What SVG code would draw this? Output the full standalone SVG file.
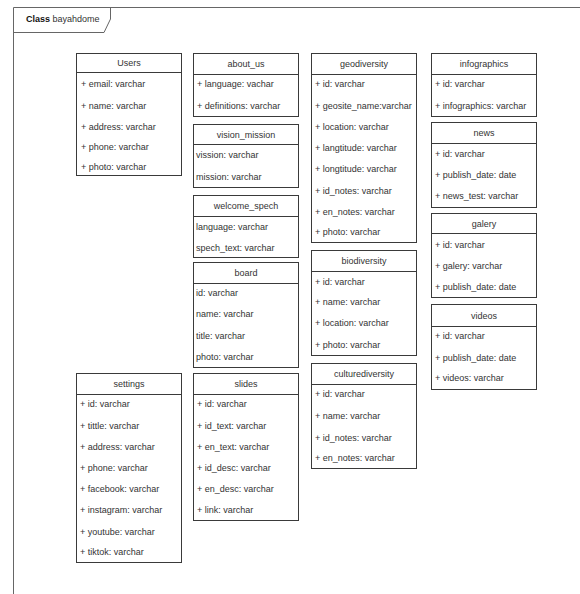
<svg xmlns="http://www.w3.org/2000/svg" width="580" height="594" viewBox="0 0 580 594">
<style>
.frame{fill:none;stroke:#666;stroke-width:1}
.box{fill:#fff;stroke:#3a3a3a;stroke-width:1}
.sep{stroke:#3a3a3a;stroke-width:1}
text{font-family:"Liberation Sans",Arial,sans-serif;font-size:9px;fill:#333}
.h{text-anchor:middle}
.b{font-weight:bold;fill:#111}
</style>
<rect width="580" height="594" fill="#fff"/>
<g id="frame">
<path class="frame" d="M13.5,594 V7.5 H580"/>
<path class="frame" d="M13.5,32.5 H104 L110.5,19 V7.5"/>
<text x="26" y="21.5"><tspan class="b">Class</tspan> bayahdome</text>
</g>
<g id="connectors"></g>
<g id="users">
<rect class="box" x="76.5" y="53.5" width="105" height="122"/>
<line class="sep" x1="76.5" y1="72.5" x2="181.5" y2="72.5"/>
<text class="h" x="129" y="66">Users</text>
<text x="81" y="87">+ email: varchar</text>
<text x="81" y="108.5">+ name: varchar</text>
<text x="81" y="130">+ address: varchar</text>
<text x="81" y="150">+ phone: varchar</text>
<text x="81" y="169.5">+ photo: varchar</text>
</g>
<g id="about_us">
<rect class="box" x="193.5" y="53.5" width="105" height="63"/>
<line class="sep" x1="193.5" y1="74.5" x2="298.5" y2="74.5"/>
<text class="h" x="246" y="67">about_us</text>
<text x="197" y="87">+ language: vachar</text>
<text x="197" y="109">+ definitions: varchar</text>
</g>
<g id="vision_mission">
<rect class="box" x="193.5" y="124.5" width="105" height="63"/>
<line class="sep" x1="193.5" y1="144.5" x2="298.5" y2="144.5"/>
<text class="h" x="246" y="137.5">vision_mission</text>
<text x="196" y="158">vission: varchar</text>
<text x="196" y="180">mission: varchar</text>
</g>
<g id="welcome_spech">
<rect class="box" x="193.5" y="195.5" width="105" height="62"/>
<line class="sep" x1="193.5" y1="216.5" x2="298.5" y2="216.5"/>
<text class="h" x="246" y="209">welcome_spech</text>
<text x="196" y="230">language: varchar</text>
<text x="196" y="250.5">spech_text: varchar</text>
</g>
<g id="board">
<rect class="box" x="193.5" y="262.5" width="105" height="105"/>
<line class="sep" x1="193.5" y1="283.5" x2="298.5" y2="283.5"/>
<text class="h" x="246" y="276">board</text>
<text x="196" y="296">id: varchar</text>
<text x="196" y="317">name: varchar</text>
<text x="196" y="339">title: varchar</text>
<text x="196" y="360">photo: varchar</text>
</g>
<g id="slides">
<rect class="box" x="193.5" y="373.5" width="105" height="147"/>
<line class="sep" x1="193.5" y1="394.5" x2="298.5" y2="394.5"/>
<text class="h" x="246" y="387">slides</text>
<text x="197" y="407">+ id: varchar</text>
<text x="197" y="429">+ id_text: varchar</text>
<text x="197" y="450">+ en_text: varchar</text>
<text x="197" y="471">+ id_desc: varchar</text>
<text x="197" y="492">+ en_desc: varchar</text>
<text x="197" y="513">+ link: varchar</text>
</g>
<g id="geodiversity">
<rect class="box" x="311.5" y="53.5" width="105" height="189"/>
<line class="sep" x1="311.5" y1="74.5" x2="416.5" y2="74.5"/>
<text class="h" x="364" y="67">geodiversity</text>
<text x="315" y="87">+ id: varchar</text>
<text x="315" y="109">+ geosite_name:varchar</text>
<text x="315" y="130">+ location: varchar</text>
<text x="315" y="151">+ langtitude: varchar</text>
<text x="315" y="172">+ longtitude: varchar</text>
<text x="315" y="194">+ id_notes: varchar</text>
<text x="315" y="215">+ en_notes: varchar</text>
<text x="315" y="235">+ photo: varchar</text>
</g>
<g id="biodiversity">
<rect class="box" x="311.5" y="250.5" width="105" height="105"/>
<line class="sep" x1="311.5" y1="271.5" x2="416.5" y2="271.5"/>
<text class="h" x="364" y="264">biodiversity</text>
<text x="315" y="285">+ id: varchar</text>
<text x="315" y="305">+ name: varchar</text>
<text x="315" y="326">+ location: varchar</text>
<text x="315" y="348">+ photo: varchar</text>
</g>
<g id="culturediversity">
<rect class="box" x="311.5" y="363.5" width="105" height="105"/>
<line class="sep" x1="311.5" y1="384.5" x2="416.5" y2="384.5"/>
<text class="h" x="364" y="377">culturediversity</text>
<text x="315" y="397">+ id: varchar</text>
<text x="315" y="419">+ name: varchar</text>
<text x="315" y="441">+ id_notes: varchar</text>
<text x="315" y="461">+ en_notes: varchar</text>
</g>
<g id="infographics">
<rect class="box" x="431.5" y="53.5" width="105" height="63"/>
<line class="sep" x1="431.5" y1="74.5" x2="536.5" y2="74.5"/>
<text class="h" x="484" y="67">infographics</text>
<text x="435" y="87">+ id: varchar</text>
<text x="435" y="109">+ infographics: varchar</text>
</g>
<g id="news">
<rect class="box" x="431.5" y="122.5" width="105" height="85"/>
<line class="sep" x1="431.5" y1="143.5" x2="536.5" y2="143.5"/>
<text class="h" x="484" y="136">news</text>
<text x="435" y="157">+ id: varchar</text>
<text x="435" y="178">+ publish_date: date</text>
<text x="435" y="199">+ news_test: varchar</text>
</g>
<g id="galery">
<rect class="box" x="431.5" y="213.5" width="105" height="84"/>
<line class="sep" x1="431.5" y1="233.5" x2="536.5" y2="233.5"/>
<text class="h" x="484" y="226.5">galery</text>
<text x="435" y="248">+ id: varchar</text>
<text x="435" y="269">+ galery: varchar</text>
<text x="435" y="290">+ publish_date: date</text>
</g>
<g id="videos">
<rect class="box" x="431.5" y="304.5" width="105" height="85"/>
<line class="sep" x1="431.5" y1="326.5" x2="536.5" y2="326.5"/>
<text class="h" x="484" y="318.5">videos</text>
<text x="435" y="339">+ id: varchar</text>
<text x="435" y="361">+ publish_date: date</text>
<text x="435" y="381">+ videos: varchar</text>
</g>
<g id="settings">
<rect class="box" x="76.5" y="373.5" width="105" height="189"/>
<line class="sep" x1="76.5" y1="394.5" x2="181.5" y2="394.5"/>
<text class="h" x="129" y="387">settings</text>
<text x="80" y="407">+ id: varchar</text>
<text x="80" y="429">+ tittle: varchar</text>
<text x="80" y="450">+ address: varchar</text>
<text x="80" y="471">+ phone: varchar</text>
<text x="80" y="492">+ facebook: varchar</text>
<text x="80" y="513">+ instagram: varchar</text>
<text x="80" y="535">+ youtube: varchar</text>
<text x="80" y="555">+ tiktok: varchar</text>
</g>
</svg>
